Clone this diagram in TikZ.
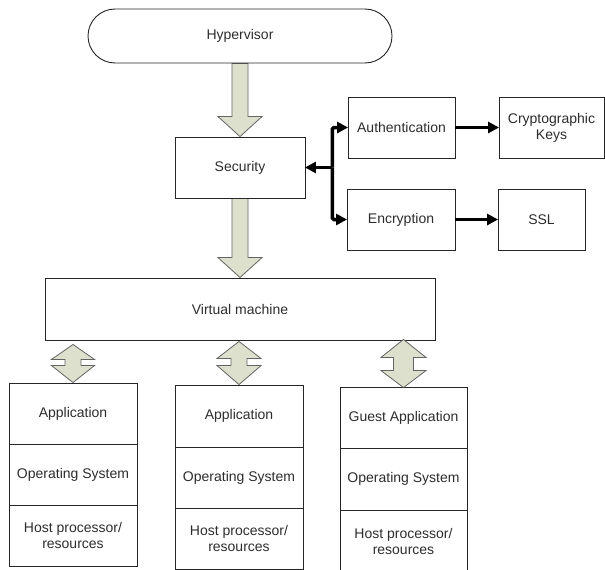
\documentclass[tikz,border=0pt]{standalone}
\usepackage{fontspec}
\setmainfont{Liberation Sans}
\usetikzlibrary{calc,arrows.meta,backgrounds}
\definecolor{txt}{RGB}{45,45,45}
\definecolor{arrfill}{RGB}{221,224,205}
\definecolor{arrline}{RGB}{100,100,100}
\tikzset{
  cell/.style={draw=black!85, line width=0.9pt, rectangle, inner sep=0pt, align=center,
    text=txt, font=\fontsize{14}{16}\selectfont},
  blockarrow/.style={fill=arrfill, draw=arrline, line width=0.8pt, line join=miter},
  conn/.style={draw=black, line width=3.5pt, rounded corners=1.5pt,
    -{Triangle[length=11pt,width=11pt]}, shorten >=-0.5pt}
}
\begin{document}
\begin{tikzpicture}[x=1pt,y=-1pt]
\useasboundingbox (0,0) rectangle (605,570);
\clip (0,0) rectangle (605,570);
% top part
\node[cell, rounded corners=27pt, minimum width=304pt, minimum height=54pt] (hyp) at (240,36) {Hypervisor};
\node[cell, minimum width=130pt, minimum height=61pt] (sec) at (240,167.5) {Security};
\node[cell, minimum width=390pt, minimum height=62pt] (vm) at (240,309) {Virtual machine};
\node[cell, minimum width=107pt, minimum height=61pt] (auth) at (401.5,127.5) {Authentication};
\node[cell, minimum width=105pt, minimum height=61pt] (keys) at (551.5,127.5) {Cryptographic\\Keys};
\node[cell, minimum width=108pt, minimum height=61pt] (enc) at (401,219.5) {Encryption};
\node[cell, minimum width=87pt, minimum height=61pt] (ssl) at (541.5,219.5) {SSL};
% stacks
\node[cell, minimum width=128pt, minimum height=61pt] (app1) at (73,413.5) {Application};
\node[cell, minimum width=128pt, minimum height=61pt] (os1) at (73,474.5) {Operating System};
\node[cell, minimum width=128pt, minimum height=61pt] (hw1) at (73,535.5) {Host processor/\\resources};
\node[cell, minimum width=128pt, minimum height=62pt] (app2) at (239,416) {Application};
\node[cell, minimum width=128pt, minimum height=61pt] (os2) at (239,477.5) {Operating System};
\node[cell, minimum width=128pt, minimum height=61pt] (hw2) at (239,538.5) {Host processor/\\resources};
\node[cell, minimum width=127pt, minimum height=61pt] (app3) at (403.5,417.5) {Guest Application};
\node[cell, minimum width=127pt, minimum height=62pt] (os3) at (403.5,479) {Operating System};
\node[cell, minimum width=127pt, minimum height=62pt] (hw3) at (403.5,541) {Host processor/\\resources};
% connectors
\coordinate (bus) at ($(sec.east)+(27,0)$);
\draw[conn] (bus) -- (sec.east);
\draw[conn] (bus) |- (auth.west);
\draw[conn] (bus) |- (enc.west);
\draw[conn] (auth.east) -- (keys.west);
\draw[conn] (enc.east) -- (ssl.west);
% block arrows
\begin{scope}[on background layer]
\filldraw[blockarrow] ($(hyp.south)+(-8,0)$) -- ($(sec.north)+(-8,-20)$) -- ($(sec.north)+(-22,-20)$)
  -- (sec.north) -- ($(sec.north)+(22,-20)$) -- ($(sec.north)+(8,-20)$) -- ($(hyp.south)+(8,0)$) -- cycle;
\filldraw[blockarrow] ($(sec.south)+(-8,0)$) -- ($(vm.north)+(-8,-20)$) -- ($(vm.north)+(-22,-20)$)
  -- (vm.north) -- ($(vm.north)+(22,-20)$) -- ($(vm.north)+(8,-20)$) -- ($(sec.south)+(8,0)$) -- cycle;
\end{scope}
\coordinate (t1) at ($(app1.north |- vm.south)+(0,4)$);
\coordinate (t2) at ($(app2.north |- vm.south)+(0,1)$);
\coordinate (t3) at ($(app3.north |- vm.south)+(0,-1)$);
\coordinate (b3) at ($(app3.north)+(0,1)$);
\filldraw[blockarrow] (t1) -- ($(t1)+(21.5,15)$) -- ($(t1)+(8,15)$) -- ($(app1.north)+(8,-17)$) -- ($(app1.north)+(21.5,-17)$)
  -- (app1.north) -- ($(app1.north)+(-21.5,-17)$) -- ($(app1.north)+(-8,-17)$) -- ($(t1)+(-8,15)$) -- ($(t1)+(-21.5,15)$) -- cycle;
\filldraw[blockarrow] (t2) -- ($(t2)+(22,17)$) -- ($(t2)+(8,17)$) -- ($(app2.north)+(8,-19)$) -- ($(app2.north)+(22,-19)$)
  -- (app2.north) -- ($(app2.north)+(-22,-19)$) -- ($(app2.north)+(-8,-19)$) -- ($(t2)+(-8,17)$) -- ($(t2)+(-22,17)$) -- cycle;
\filldraw[blockarrow] (t3) -- ($(t3)+(22.5,18)$) -- ($(t3)+(10,18)$) -- ($(b3)+(10,-17)$) -- ($(b3)+(22.5,-17)$)
  -- (b3) -- ($(b3)+(-22.5,-17)$) -- ($(b3)+(-10,-17)$) -- ($(t3)+(-10,18)$) -- ($(t3)+(-22.5,18)$) -- cycle;
\end{tikzpicture}
\end{document}
